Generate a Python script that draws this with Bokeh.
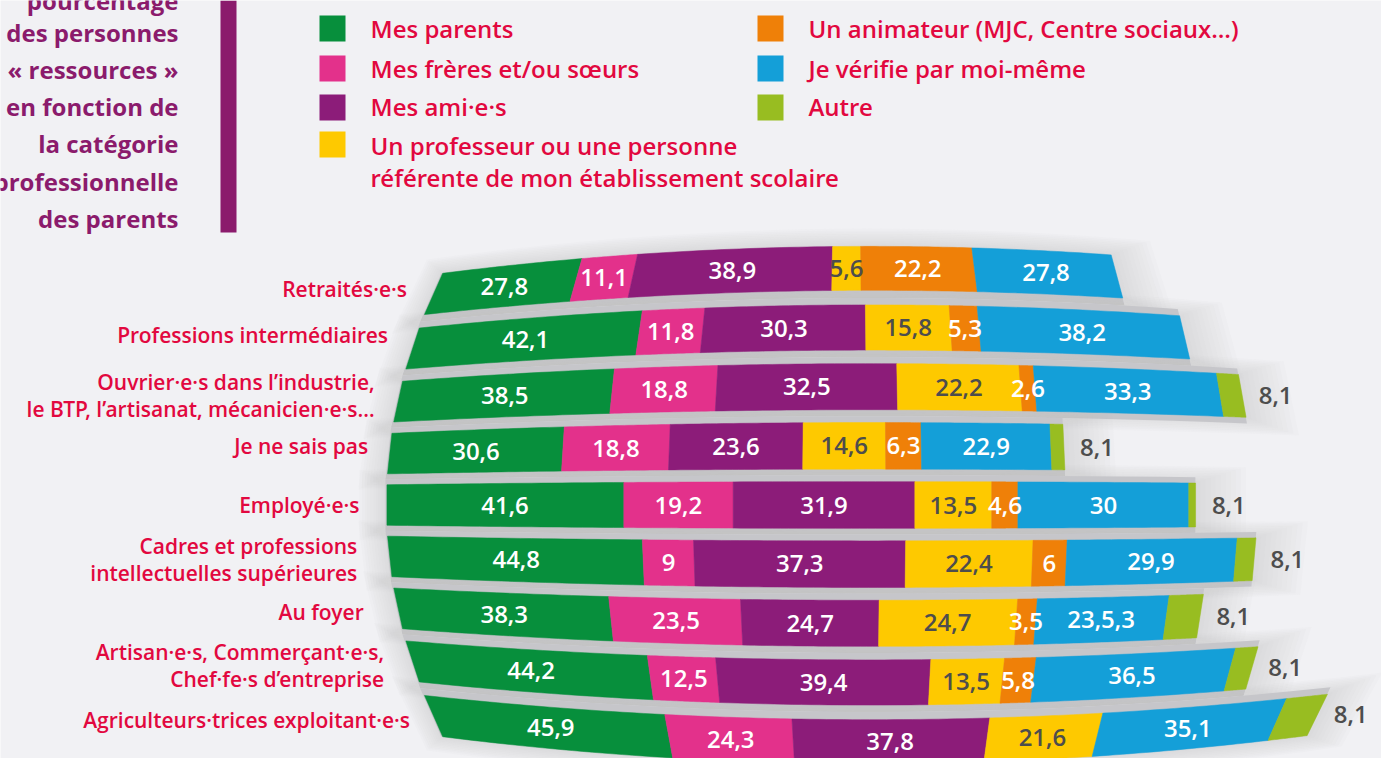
import math
import numpy as np
from bokeh.plotting import figure
from bokeh.models import Range1d, ColumnDataSource
from bokeh.core.properties import value
from bokeh.embed import file_html
from bokeh.resources import INLINE

# ---------------- data ----------------
categories = [
    "Retraités·e·s",
    "Professions intermédiaires",
    "Ouvrier·e·s dans l’industrie,\nle BTP, l’artisanat, mécanicien·e·s…",
    "Je ne sais pas",
    "Employé·e·s",
    "Cadres et professions\nintellectuelles supérieures",
    "Au foyer",
    "Artisan·e·s, Commerçant·e·s,\nChef·fe·s d’entreprise",
    "Agriculteurs·trices exploitant·e·s",
]
series_names = [
    "Mes parents",
    "Mes frères et/ou sœurs",
    "Mes ami·e·s",
    "Un professeur ou une personne\nréférente de mon établissement scolaire",
    "Un animateur (MJC, Centre sociaux…)",
    "Je vérifie par moi-même",
    "Autre",
]
parents   = [27.8, 42.1, 38.5, 30.6, 41.6, 44.8, 38.3, 44.2, 45.9]
freres    = [11.1, 11.8, 18.8, 18.8, 19.2, 9.0, 23.5, 12.5, 24.3]
amis      = [38.9, 30.3, 32.5, 23.6, 31.9, 37.3, 24.7, 39.4, 37.8]
prof      = [5.6, 15.8, 22.2, 14.6, 13.5, 22.4, 24.7, 13.5, 21.6]
animateur = [22.2, 5.3, 2.6, 6.3, 4.6, 6.0, 3.5, 5.8, 0.0]
verifie   = [27.8, 38.2, 33.3, 22.9, 30.0, 29.9, 23.5, 36.5, 35.1]
autre     = [0.0, 0.0, 4.0, 2.3, 1.2, 3.3, 6.1, 4.1, 7.8]   # drawn widths
autre_labels = ["", "", "8,1", "8,1", "8,1", "8,1", "8,1", "8,1", "8,1"]
label_overrides = {(5, 6): "23,5,3"}   # (series, row) -> printed text

title_lines = ["pourcentage", "des personnes", "« ressources »", "en fonction de",
               "la catégorie", "professionnelle", "des parents"]

# ---------------- style / layout ----------------
colors = ["#078f3c", "#e3318b", "#8c1c79", "#fec900", "#ef8008", "#149fd8", "#98bd21"]
label_colors = ["white", "white", "white", "#4d4d4d", "white", "white", "#4d4d4d"]
RED = "#e2083f"
PURPLE = "#8b1b6c"
BG = "#f1f1f4"
FONT = "Open Sans"
FONT_MED = "Open Sans SemiBold, Open Sans"

W_PX, H_PX = 1381, 758
PX_PER_UNIT = 5.7
X_ZERO_PX = 386.0
ROW_PX = 51.9
MID_ROW = 4
Y_MID_PX = 504.5

# per-row nudges of the category labels (screen px)
cat_dx = [1, 3, 4, 6, 0, -5, -7, -1, 4]
cat_dy = [-5, -14, -6, -8, 0, 3, 4, 4, 4]
title_y = [0, 32, 69, 106, 143, 181, 218]


def px_x(px):
    return (px - X_ZERO_PX) / PX_PER_UNIT


def px_y(py):
    return (py - Y_MID_PX) / ROW_PX + MID_ROW


XS = px_x(851)           # horizontal centre of the "globe"
XB = px_x(870)           # centre of the row bowing
HW = 465 / PX_PER_UNIT   # half width for bowing
RAD = 476 / ROW_PX       # globe radius in row units
K = 0.14                 # bow strength
HALF = 20.5 / ROW_PX     # half bar thickness (middle row)


def gfac(y):
    dy = y - MID_ROW
    return math.sqrt(max(0.0, 1 - (dy / RAD) ** 2))


def warp(v, y):
    v = np.asarray(v, dtype=float)
    dy = y - MID_ROW
    xw = XS + (v - XS) * gfac(y)
    u = (xw - XB) / HW
    yw = y + K * dy * (1 - u * u)
    return xw, yw


def band(a, b, i, top, bot, n=24):
    vs = np.linspace(a, b, n)
    xt, yt = warp(vs, i - top)
    xb, yb = warp(vs[::-1], i + bot)
    return list(np.concatenate([xt, xb])), list(np.concatenate([yt, yb]))


def fmt(v):
    return f"{v:g}".replace(".", ",")


values = [parents, freres, amis, prof, animateur, verifie, autre]
n_rows = len(categories)

p = figure(width=W_PX, height=H_PX, output_backend="svg", toolbar_location=None,
           x_range=Range1d(px_x(0), px_x(W_PX)),
           y_range=Range1d(px_y(H_PX), px_y(0)),
           min_border=0, background_fill_color=BG, border_fill_color=BG)
p.axis.visible = False
p.grid.visible = False
p.outline_line_color = None

# ---- soft light highlight on the right of the page ----
n_hl = 14
p.ellipse(x=[px_x(1330)] * n_hl, y=[px_y(300)] * n_hl,
          width=[560 - 30 * k for k in range(n_hl)], height=[700 - 38 * k for k in range(n_hl)],
          width_units="screen", height_units="screen",
          fill_color="white", fill_alpha=0.045, line_color=None)

# ---- grey backdrop between rows (soft shadow) ----
sh_xs, sh_ys, sh_alpha = [], [], []
for i in range(n_rows):
    total = sum(vals[i] for vals in values)
    half = HALF * (0.4 + 0.6 * gfac(i))
    for k in range(10, 0, -1):
        xs, ys = band(-0.5 * k, total + 0.9 * k, i, half + 0.03 * k, half + 0.03 * k)
        sh_xs.append(xs); sh_ys.append(ys); sh_alpha.append(0.05)
    top = 0.5 if i > 0 else half
    bot = 0.5 if i < n_rows - 1 else half
    xs, ys = band(-0.3, total, i, top, bot)
    sh_xs.append(xs); sh_ys.append(ys); sh_alpha.append(1.0)
p.patches(xs="xs", ys="ys", fill_alpha="a", source=ColumnDataSource(dict(xs=sh_xs, ys=sh_ys, a=sh_alpha)),
          fill_color="#c6c6ca", line_color=None)

# ---- bar segments ----
seg = dict(xs=[], ys=[], color=[])
lab = dict(x=[], y=[], text=[], color=[])
for i in range(n_rows):
    half = HALF * (0.4 + 0.6 * gfac(i))
    cum = 0.0
    for s, vals in enumerate(values):
        v = vals[i]
        if v <= 0:
            continue
        xs, ys = band(cum, cum + v, i, half, half)
        seg["xs"].append(xs); seg["ys"].append(ys); seg["color"].append(colors[s])
        if s < 6:
            lx, ly = warp(cum + v / 2, i)
            lab["x"].append(float(lx)); lab["y"].append(float(ly))
            lab["text"].append(label_overrides.get((s, i), fmt(v)))
            lab["color"].append(label_colors[s])
        cum += v
p.patches(xs="xs", ys="ys", fill_color="color", line_color="color", line_width=0.5,
          source=ColumnDataSource(seg))
p.text(x="x", y="y", text="text", text_color="color", source=ColumnDataSource(lab),
       text_font=value(FONT_MED), text_font_size="24px",
       text_align="center", text_baseline="middle")

# ---- "Autre" labels beside the bars ----
al = dict(x=[], y=[], text=[])
for i in range(n_rows):
    if not autre_labels[i]:
        continue
    total = sum(vals[i] for vals in values)
    ex, ey = warp(total, i)
    al["x"].append(float(ex)); al["y"].append(float(ey)); al["text"].append(autre_labels[i])
p.text(x="x", y="y", text="text", source=ColumnDataSource(al), x_offset=16,
       text_color="#4d4d4d", text_font=value(FONT_MED), text_font_size="24px",
       text_align="left", text_baseline="middle")

# ---- category labels ----
cl = dict(x=[], y=[], text=[], dx=[], dy=[])
for i, c in enumerate(categories):
    lx, ly = warp(0.0, i)
    cl["x"].append(float(lx)); cl["y"].append(float(ly)); cl["text"].append(c)
    cl["dx"].append(-27 + cat_dx[i]); cl["dy"].append(cat_dy[i])
p.text(x="x", y="y", text="text", source=ColumnDataSource(cl), x_offset="dx", y_offset="dy",
       text_color=RED, text_font=value(FONT_MED), text_font_size="21px",
       text_align="right", text_baseline="middle", text_line_height=0.98)

# ---- title block ----
p.text(x=[px_x(178)] * len(title_lines), y=[px_y(v) for v in title_y],
       text=title_lines, text_color=PURPLE, text_font=value(FONT), text_font_size="24px",
       text_font_style="bold", text_align="right", text_baseline="middle")
p.quad(left=[px_x(220)], right=[px_x(236)], top=[px_y(0)], bottom=[px_y(232)],
       fill_color=PURPLE, line_color=None)

# ---- legend ----
leg_x = [332, 332, 332, 332, 770, 770, 770]
leg_y = [28, 68, 107, 144, 28, 68, 107]
leg_ty = [28, 68, 106, 161, 28, 68, 106]
p.scatter(x=[px_x(v) for v in leg_x], y=[px_y(v) for v in leg_y], marker="square", size=26,
          fill_color=colors, line_color=None)
p.text(x=[px_x(v + 38) for v in leg_x], y=[px_y(v) for v in leg_ty], text=series_names,
       text_color=RED, text_font=value(FONT_MED), text_font_size="24px",
       text_align="left", text_baseline="middle", text_line_height=0.98)

html = file_html(p, INLINE)
open("out.html", "w").write(html)
